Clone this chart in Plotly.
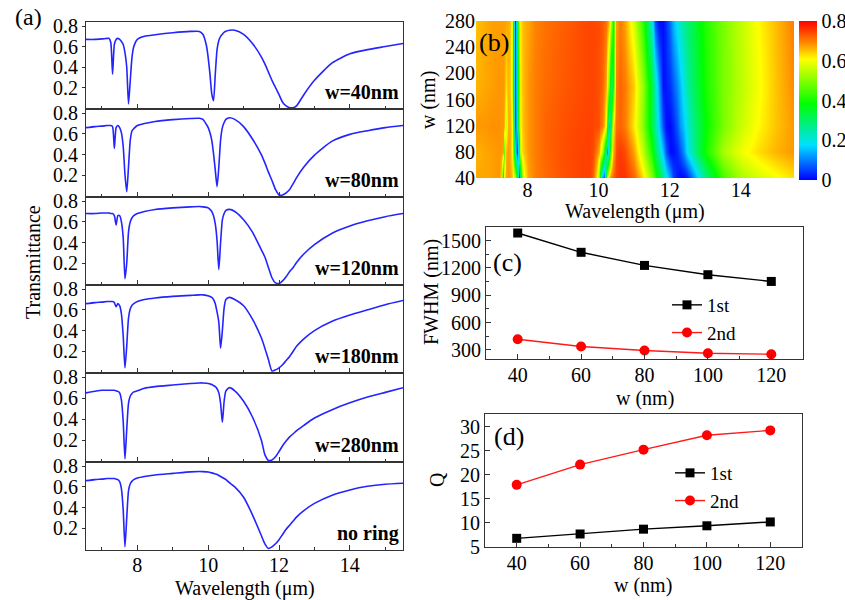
import plotly.graph_objects as go

# ---------------- data ----------------
WL = [6.55, 6.8, 7.0, 7.15, 7.2, 7.25, 7.3, 7.35, 7.4, 7.45,
      7.5, 7.55, 7.6, 7.65, 7.7, 7.75, 7.8, 7.85, 7.9, 8.0,
      8.2, 8.5, 9.0, 9.5, 9.75, 9.85, 9.95, 10.0, 10.05, 10.1,
      10.15, 10.2, 10.25, 10.3, 10.35, 10.4, 10.45, 10.5, 10.6, 10.75,
      11.0, 11.25, 11.5, 11.6, 11.7, 11.8, 11.9, 12.0, 12.1, 12.2,
      12.3, 12.4, 12.5, 12.7, 13.0, 13.5, 14.0, 14.5, 15.0, 15.5]

T_40 = [0.67, 0.67, 0.675, 0.68, 0.68, 0.64, 0.33, 0.62, 0.67, 0.68,
        0.67, 0.65, 0.62, 0.54, 0.40, 0.04, 0.27, 0.50, 0.60, 0.67,
        0.70, 0.715, 0.735, 0.748, 0.748, 0.72, 0.61, 0.49, 0.33, 0.14,
        0.07, 0.33, 0.57, 0.66, 0.70, 0.72, 0.74, 0.75, 0.76, 0.76,
        0.72, 0.63, 0.50, 0.43, 0.35, 0.27, 0.20, 0.13, 0.056, 0.02,
        0.003, 0.003, 0.023, 0.13, 0.27, 0.44, 0.53, 0.57, 0.60, 0.63]

T_80 = [0.66, 0.67, 0.675, 0.68, 0.68, 0.68, 0.67, 0.46, 0.66, 0.68,
        0.66, 0.61, 0.48, 0.21, 0.04, 0.28, 0.54, 0.63, 0.65, 0.68,
        0.70, 0.72, 0.737, 0.748, 0.75, 0.74, 0.69, 0.66, 0.61, 0.54,
        0.41, 0.25, 0.09, 0.28, 0.54, 0.66, 0.71, 0.74, 0.755, 0.74,
        0.67, 0.55, 0.40, 0.32, 0.23, 0.15, 0.063, 0.01, 0.01, 0.03,
        0.063, 0.12, 0.18, 0.28, 0.395, 0.53, 0.595, 0.63, 0.66, 0.68]

T_120 = [0.68, 0.68, 0.685, 0.685, 0.685, 0.68, 0.68, 0.66, 0.57, 0.66,
         0.66, 0.60, 0.45, 0.05, 0.20, 0.50, 0.60, 0.64, 0.66, 0.68,
         0.70, 0.72, 0.735, 0.745, 0.748, 0.745, 0.74, 0.735, 0.72, 0.70,
         0.66, 0.58, 0.42, 0.14, 0.40, 0.62, 0.68, 0.71, 0.72, 0.70,
         0.62, 0.50, 0.33, 0.26, 0.16, 0.06, 0.01, 0.005, 0.03, 0.07,
         0.12, 0.16, 0.21, 0.29, 0.38, 0.49, 0.56, 0.61, 0.65, 0.68]

T_180 = [0.66, 0.67, 0.675, 0.68, 0.68, 0.68, 0.68, 0.67, 0.63, 0.66,
         0.64, 0.56, 0.35, 0.04, 0.25, 0.52, 0.61, 0.645, 0.66, 0.68,
         0.70, 0.715, 0.73, 0.74, 0.745, 0.745, 0.74, 0.735, 0.73, 0.72,
         0.70, 0.66, 0.58, 0.48, 0.23, 0.40, 0.62, 0.70, 0.72, 0.70,
         0.64, 0.51, 0.33, 0.23, 0.12, 0.01, 0.02, 0.04, 0.07, 0.11,
         0.15, 0.20, 0.25, 0.32, 0.40, 0.49, 0.55, 0.60, 0.65, 0.69]

T_280 = [0.65, 0.665, 0.675, 0.675, 0.675, 0.675, 0.675, 0.675, 0.67, 0.665,
         0.65, 0.58, 0.38, 0.02, 0.30, 0.55, 0.62, 0.645, 0.66, 0.67,
         0.695, 0.71, 0.725, 0.74, 0.745, 0.745, 0.742, 0.74, 0.735, 0.73,
         0.72, 0.71, 0.69, 0.65, 0.55, 0.37, 0.57, 0.67, 0.70, 0.67,
         0.57, 0.42, 0.20, 0.06, 0.005, 0.01, 0.04, 0.09, 0.145, 0.19,
         0.23, 0.26, 0.29, 0.34, 0.41, 0.49, 0.555, 0.61, 0.655, 0.70]

T_NORING = [0.66, 0.67, 0.675, 0.68, 0.68, 0.68, 0.68, 0.68, 0.675, 0.67,
            0.65, 0.58, 0.38, 0.02, 0.30, 0.56, 0.63, 0.655, 0.67, 0.685,
            0.70, 0.715, 0.73, 0.745, 0.748, 0.747, 0.745, 0.743, 0.74, 0.735,
            0.73, 0.725, 0.72, 0.71, 0.70, 0.69, 0.68, 0.67, 0.64, 0.60,
            0.50, 0.33, 0.13, 0.05, 0.005, 0.02, 0.05, 0.09, 0.14, 0.19,
            0.23, 0.27, 0.31, 0.37, 0.44, 0.52, 0.57, 0.605, 0.625, 0.635]

PANEL_TEXT = ["w=40nm", "w=80nm", "w=120nm", "w=180nm", "w=280nm", "no ring"]
W_MAP = [40, 80, 120, 180, 280]

W_FIT = [40, 60, 80, 100, 120]
FWHM_1ST = [1584, 1372, 1228, 1126, 1052]
FWHM_2ND = [417, 337, 293, 263, 252]
Q_1ST = [6.8, 7.7, 8.7, 9.4, 10.2]
Q_2ND = [17.9, 22.1, 25.2, 28.2, 29.2]

SPECTRA = [T_40, T_80, T_120, T_180, T_280, T_NORING]
for s in SPECTRA:
    assert len(s) == len(WL)

# ---------------- layout helpers ----------------
FW, FH = 845, 600
def px(x):
    return x / FW
def py(y):
    return 1 - y / FH

FONT = "Liberation Serif"
AX = "#333333"
FS = 20
TF = dict(family=FONT, size=FS, color="black")
LF = dict(family=FONT, size=19, color="black")

fig = go.Figure()
layout = dict(
    width=FW, height=FH,
    margin=dict(l=0, r=0, t=0, b=0, autoexpand=False),
    paper_bgcolor="white", plot_bgcolor="white",
    font=dict(family=FONT, size=FS, color="black"),
    showlegend=True,
)
annotations = []

# ---------- panel (a) ----------
edges = [22, 109, 197, 285, 373, 462, 550]
for i, T in enumerate(SPECTRA):
    n = i + 1
    xa = "x" if n == 1 else f"x{n}"
    ya = "y" if n == 1 else f"y{n}"
    fig.add_trace(go.Scatter(
        x=WL, y=T, mode="lines",
        line=dict(color="#2424ff", width=1.6, shape="spline", smoothing=0.6),
        xaxis=xa, yaxis=ya, showlegend=False, hoverinfo="skip"))
    last = (n == len(SPECTRA))
    layout[f"xaxis{'' if n == 1 else n}"] = dict(
        domain=[px(86), px(403)], anchor=ya, range=[6.55, 15.5],
        tick0=0, dtick=2, ticks="inside", ticklen=5, tickcolor=AX,
        minor=dict(ticks="inside", dtick=1, ticklen=3, tickcolor=AX),
        showline=True, linecolor=AX, linewidth=1, mirror=True,
        showgrid=False, zeroline=False, showticklabels=last,
        ticklabelstandoff=-3,
        tickfont=TF, automargin=False)
    layout[f"yaxis{'' if n == 1 else n}"] = dict(
        domain=[py(edges[i + 1]), py(edges[i])], anchor=xa,
        range=[-0.01, 0.84], tickvals=[0.2, 0.4, 0.6, 0.8],
        ticktext=["0.2", "0.4", "0.6", "0.8"],
        ticks="outside", ticklen=3, tickcolor=AX,
        showline=True, linecolor=AX, linewidth=1, mirror=True,
        showgrid=False, zeroline=False, tickfont=TF, automargin=False)
    annotations.append(dict(
        x=px(401), y=py(edges[i + 1] - 17),
        text=f"<b>{PANEL_TEXT[i]}</b>",
        xanchor="right", yanchor="middle",
        font=dict(family=FONT, size=FS, color="black")))

annotations += [
    dict(x=px(28), y=py(17), text="(a)", font=dict(family=FONT, size=24)),
    dict(x=px(245), y=py(588), text="Wavelength (μm)", font=TF),
    dict(x=px(33), y=py(262), text="Transmittance", textangle=-90, font=TF),
]

# ---------- panel (b) heatmap ----------
COLORSCALE = [[0.0, "#0000ff"], [0.22, "#00e0ff"], [0.48, "#00ff00"],
              [0.76, "#ffff00"], [0.86, "#ff8c00"], [1.0, "#ff0000"]]
fig.add_trace(go.Heatmap(
    x=WL, y=W_MAP, z=[T_40, T_80, T_120, T_180, T_280],
    zmin=0, zmax=0.8, zsmooth="best", colorscale=COLORSCALE,
    xaxis="x7", yaxis="y7", hoverinfo="skip",
    colorbar=dict(x=px(799), xanchor="left", y=py(100.5), yanchor="middle",
                  len=159 / FH, lenmode="fraction", thickness=18,
                  thicknessmode="pixels", outlinewidth=0,
                  tickvals=[0, 0.2, 0.4, 0.6, 0.8],
                  ticktext=["0", "0.2", "0.4", "0.6", "0.8"],
                  ticks="", tickfont=TF, xpad=0, ypad=0)))
layout["xaxis7"] = dict(domain=[px(476), px(794)], anchor="y7", range=[6.55, 15.5],
                        tickvals=[8, 10, 12, 14], ticks="", showgrid=False,
                        ticklabelstandoff=-2,
                        zeroline=False, showline=False, tickfont=TF, automargin=False)
layout["yaxis7"] = dict(domain=[py(178), py(21)], anchor="x7", range=[40, 280],
                        tickvals=[40, 80, 120, 160, 200, 240, 280], ticks="",
                        showgrid=False, zeroline=False, showline=False, tickfont=TF,
                        automargin=False)
annotations += [
    dict(x=px(494), y=py(43), text="(b)", font=dict(family=FONT, size=26)),
    dict(x=px(635), y=py(212), text="Wavelength (μm)", font=TF),
    dict(x=px(429), y=py(100), text="w (nm)", textangle=-90, font=TF),
]

# ---------- panel (c) ----------
fig.add_trace(go.Scatter(
    x=W_FIT, y=FWHM_1ST, mode="lines+markers", name="1st",
    line=dict(color="black", width=1.4),
    marker=dict(symbol="square", size=9, color="black"),
    xaxis="x8", yaxis="y8", legend="legend"))
fig.add_trace(go.Scatter(
    x=W_FIT, y=FWHM_2ND, mode="lines+markers", name="2nd",
    line=dict(color="#ff1a1a", width=1.4),
    marker=dict(symbol="circle", size=10, color="#ff0000"),
    xaxis="x8", yaxis="y8", legend="legend"))

common_x = dict(range=[30, 130], tickvals=[40, 60, 80, 100, 120],
                ticks="inside", ticklen=5, tickcolor=AX,
                minor=dict(ticks="inside", tickvals=[50, 70, 90, 110], ticklen=3, tickcolor=AX),
                showline=True, linecolor=AX, linewidth=1, mirror=True,
                ticklabelstandoff=-2,
                showgrid=False, zeroline=False, tickfont=TF, automargin=False)
layout["xaxis8"] = dict(domain=[px(486), px(803)], anchor="y8", **common_x)
layout["yaxis8"] = dict(domain=[py(359), py(227)], anchor="x8", range=[200, 1650],
                        tickvals=[300, 600, 900, 1200, 1500],
                        ticks="inside", ticklen=5, tickcolor=AX,
                        minor=dict(ticks="inside", tickvals=[450, 750, 1050, 1350], ticklen=3, tickcolor=AX),
                        showline=True, linecolor=AX, linewidth=1, mirror=True,
                        showgrid=False, zeroline=False, tickfont=TF, automargin=False)
layout["legend"] = dict(x=px(667), y=py(286), xanchor="left", yanchor="top",
                        bgcolor="rgba(0,0,0,0)", font=LF, tracegroupgap=0,
                        itemwidth=30)
annotations += [
    dict(x=px(507), y=py(262), text="(c)", font=dict(family=FONT, size=26)),
    dict(x=px(645), y=py(398), text="w (nm)", font=TF),
    dict(x=px(431), y=py(292), text="FWHM (nm)", textangle=-90, font=TF),
]

# ---------- panel (d) ----------
fig.add_trace(go.Scatter(
    x=W_FIT, y=Q_1ST, mode="lines+markers", name="1st",
    line=dict(color="black", width=1.4),
    marker=dict(symbol="square", size=9, color="black"),
    xaxis="x9", yaxis="y9", legend="legend2"))
fig.add_trace(go.Scatter(
    x=W_FIT, y=Q_2ND, mode="lines+markers", name="2nd",
    line=dict(color="#ff1a1a", width=1.4),
    marker=dict(symbol="circle", size=10, color="#ff0000"),
    xaxis="x9", yaxis="y9", legend="legend2"))
layout["xaxis9"] = dict(domain=[px(485), px(802)], anchor="y9", **common_x)
layout["yaxis9"] = dict(domain=[py(547), py(414)], anchor="x9", range=[5, 32.6],
                        tickvals=[5, 10, 15, 20, 25, 30],
                        ticks="inside", ticklen=5, tickcolor=AX,
                        showline=True, linecolor=AX, linewidth=1, mirror=True,
                        showgrid=False, zeroline=False, tickfont=TF, automargin=False)
layout["legend2"] = dict(x=px(670), y=py(454), xanchor="left", yanchor="top",
                         bgcolor="rgba(0,0,0,0)", font=LF, tracegroupgap=0,
                         itemwidth=30)
annotations += [
    dict(x=px(509), y=py(436), text="(d)", font=dict(family=FONT, size=26)),
    dict(x=px(643), y=py(585), text="w (nm)", font=TF),
    dict(x=px(437), y=py(480), text="Q", textangle=-90, font=TF),
]

for a in annotations:
    a.setdefault("xref", "paper")
    a.setdefault("yref", "paper")
    a.setdefault("showarrow", False)
    a.setdefault("xanchor", "center")
    a.setdefault("yanchor", "middle")
layout["annotations"] = annotations

fig.update_layout(**layout)
fig.write_html("out.html")
